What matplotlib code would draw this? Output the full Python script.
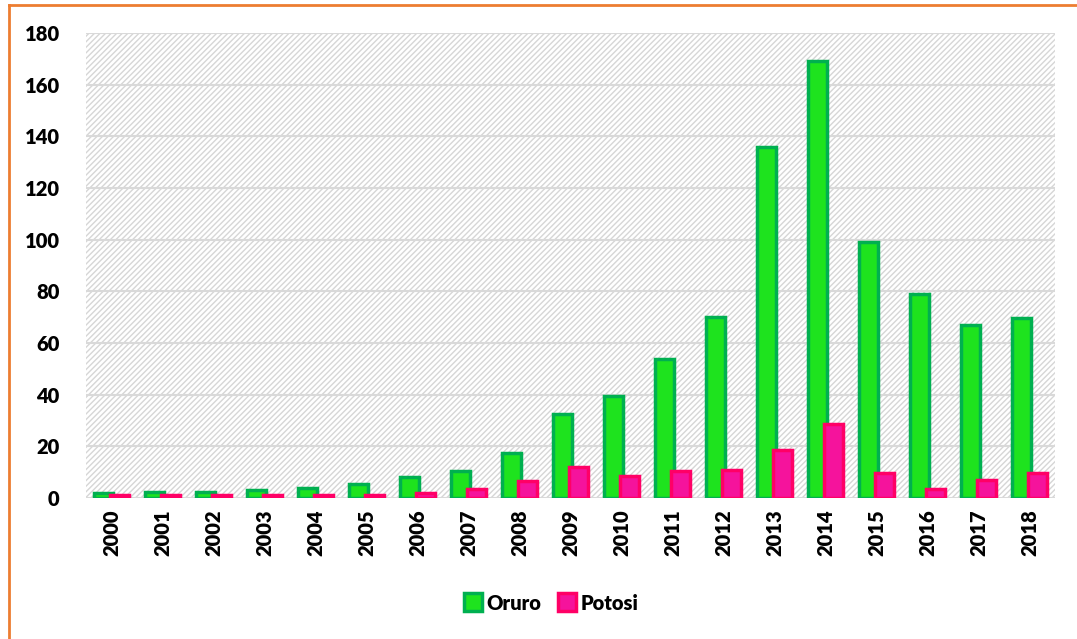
import matplotlib.pyplot as plt
import numpy as np
from matplotlib.lines import Line2D

years = [str(y) for y in range(2000, 2019)]
oruro = [1.8, 2.3, 2.2, 3.0, 4.0, 5.3, 8.0, 10.5, 17.5, 32.5, 39.5, 54.0, 70.0,
         136.0, 169.0, 99.0, 79.0, 67.0, 69.5]
potosi = [1.0, 1.0, 1.0, 1.0, 1.2, 1.2, 2.0, 3.5, 6.5, 12.0, 8.5, 10.5, 11.0,
          18.5, 28.5, 9.8, 3.5, 7.0, 9.8]

plt.rcParams["font.family"] = ["Lato", "DejaVu Sans"]
plt.rcParams["hatch.color"] = "#d6d6d6"
plt.rcParams["hatch.linewidth"] = 1.0

fig = plt.figure(figsize=(10.77, 6.39), dpi=100)
ax = fig.add_axes([86 / 1077, 1 - 498 / 639, (1055 - 86) / 1077, (498 - 33) / 639])

# hatched background
ax.patch.set_facecolor("white")
ax.patch.set_hatch("//////")
ax.patch.set_edgecolor("#d6d6d6")
ax.patch.set_linewidth(0)

x = np.arange(len(years))
w = 0.37
ax.bar(x - 0.15, oruro, w, color="#1ee31e", edgecolor="#00b050", linewidth=2.5, zorder=3)
ax.bar(x + 0.15, potosi, w, color="#f5139c", edgecolor="#ff0066", linewidth=2.5, zorder=3)

ax.set_ylim(0, 180)
ax.set_xlim(-0.5, len(years) - 0.5)
ax.set_yticks(range(0, 181, 20))
ax.set_xticks(x)
ax.set_xticklabels(years, rotation=90)
ax.grid(axis="y", color="#d9d9d9", linewidth=1.5, zorder=0)
ax.set_axisbelow(True)
for s in ax.spines.values():
    s.set_visible(False)
ax.tick_params(length=0, labelsize=14.5, pad=8)
for lab in ax.get_xticklabels() + ax.get_yticklabels():
    lab.set_fontweight("heavy")
ax.tick_params(axis="y", pad=19)

handles = [
    Line2D([], [], marker="s", linestyle="", markersize=13, markerfacecolor="#1ee31e",
           markeredgecolor="#00b050", markeredgewidth=2.5),
    Line2D([], [], marker="s", linestyle="", markersize=13, markerfacecolor="#f5139c",
           markeredgecolor="#ff0066", markeredgewidth=2.5),
]
fig.legend(handles, ["Oruro", "Potosi"], loc="center", bbox_to_anchor=(0.512, 1 - 603 / 639),
           ncol=2, frameon=False, handlelength=0.8, handletextpad=0.25, columnspacing=0.9,
           prop={"weight": "heavy", "size": 14.5})

# orange frame
fig.add_artist(Line2D([9 / 1077, 1], [1 - 5 / 639, 1 - 5 / 639], color="#ed7d31", linewidth=2))
fig.add_artist(Line2D([9 / 1077, 9 / 1077], [0, 1 - 5 / 639], color="#ed7d31", linewidth=2))

fig.savefig("out.png", dpi=100)
